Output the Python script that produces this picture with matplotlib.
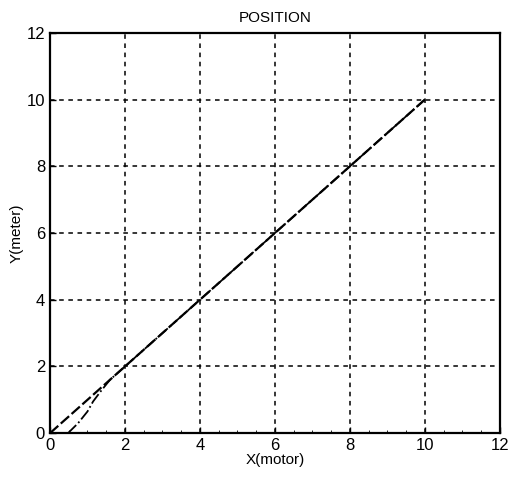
import numpy as np
import matplotlib.pyplot as plt

plt.rcParams['font.family'] = ['Liberation Sans', 'DejaVu Sans']

# reference path (straight line) and actual path
x_ref = [0, 10]
y_ref = [0, 10]
x_act = [0.48, 0.75, 1.0, 1.15, 1.35, 1.6, 2.0, 10.0]
y_act = [0.0, 0.3, 0.65, 0.95, 1.25, 1.6, 2.0, 10.0]

ticks = [0, 2, 4, 6, 8, 10, 12]

fig = plt.figure(figsize=(5.1, 4.84), dpi=100)
ax = fig.add_axes([0.098, 0.105, 0.882, 0.827])

ax.plot(x_ref, y_ref, 'k--', lw=1.6, dashes=(5, 1.5))
ax.plot(x_act, y_act, 'k-.', lw=1.3)

ax.set_xlim(0, 12)
ax.set_ylim(0, 12)
ax.set_xticks(ticks)
ax.set_yticks(ticks)
ax.set_xticks(np.arange(0, 12.1, 0.5), minor=True)
ax.tick_params(direction='in', labelsize=12, length=4, width=1)
ax.tick_params(which='minor', direction='in', length=2)
ax.grid(True, color='black', linestyle=(0, (3, 3)), lw=1.1)
for s in ax.spines.values():
    s.set_linewidth(1.6)

ax.set_title('POSITION', fontsize=11, pad=8)
ax.set_xlabel('X(motor)', fontsize=11, labelpad=0)
ax.set_ylabel('Y(meter)', fontsize=11, labelpad=2)

fig.savefig('out.png', dpi=100)
